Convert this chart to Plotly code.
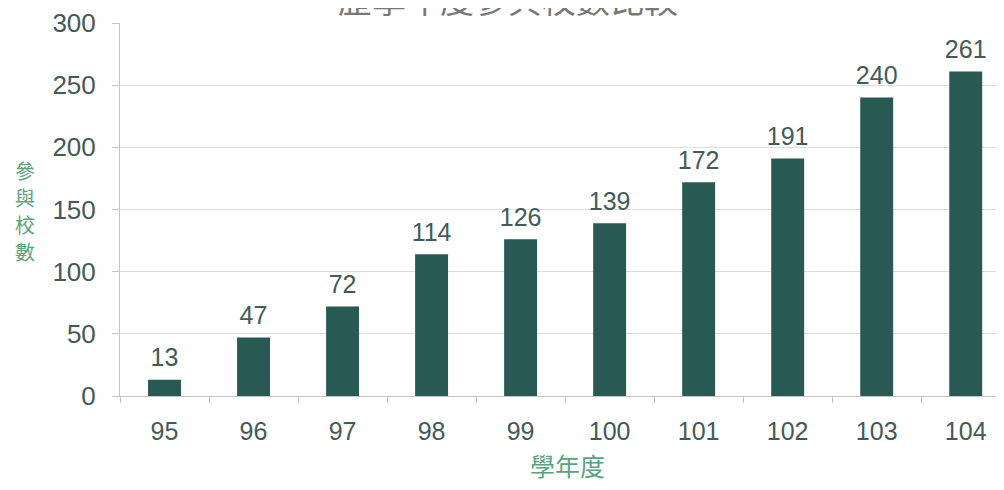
import plotly.graph_objects as go

years = ["95", "96", "97", "98", "99", "100", "101", "102", "103", "104"]
schools = [13, 47, 72, 114, 126, 139, 172, 191, 240, 261]
y_ticks = [0, 50, 100, 150, 200, 250, 300]
y_title_chars = ["參", "與", "校", "數"]

bar_color = "#285953"
text_color = "#435a58"
green = "#5aa37c"
num_font = "Liberation Sans, Arial, sans-serif"
cjk_font = "Noto Sans CJK TC, sans-serif"

# page body has an 8px margin; compensate so the plot area lands where the reference has it
L, T, B, R = 112, 15, 102, 8
plot_h = 490 - T - B

fig = go.Figure()
fig.add_trace(go.Bar(
    x=years, y=schools,
    marker=dict(color=bar_color, line=dict(width=0)),
    width=0.37,
    hoverinfo="x+y",
))
fig.add_trace(go.Scatter(
    x=years, y=schools,
    mode="markers+text",
    marker=dict(size=10, opacity=0),
    text=[str(v) for v in schools],
    textposition="top center",
    textfont=dict(family=num_font, size=25, color=text_color),
    cliponaxis=False,
    hoverinfo="skip",
))

annotations = []
for i, ch in enumerate(y_title_chars):
    page_y = 170 + i * 27 - 8
    annotations.append(dict(
        text=ch, xref="paper", yref="paper",
        x=-0.1075, xanchor="center",
        y=(490 - B - page_y) / plot_h, yanchor="middle",
        showarrow=False, borderpad=0,
        font=dict(family=cjk_font, size=20, color=green)))
annotations.append(dict(
    text="學年度", xref="paper", yref="paper",
    x=0.506, xanchor="center", y=-0.185, yanchor="middle",
    showarrow=False,
    font=dict(family=cjk_font, size=25, color=green)))
annotations.append(dict(
    text="歷學年度參與校數比較", xref="paper", yref="paper",
    x=0.439, xanchor="center", y=1.0 - 2 / plot_h, yanchor="bottom",
    showarrow=False,
    font=dict(family=cjk_font, size=34, color="#777777")))

fig.update_layout(
    width=1004, height=490,
    margin=dict(l=L, r=R, t=T, b=B),
    paper_bgcolor="white", plot_bgcolor="white",
    showlegend=False,
    xaxis=dict(
        type="category",
        range=[-0.5, 9.43],
        automargin=False,
        showgrid=False,
        showline=True, linecolor="#c4c4c4", linewidth=1,
        ticks="outside", tickson="boundaries", ticklen=6, tickcolor="#c4c4c4",
        ticklabelstandoff=13,
        tickfont=dict(family=num_font, size=25, color=text_color),
    ),
    yaxis=dict(
        range=[0, 300],
        automargin=False,
        tickvals=y_ticks,
        showgrid=True, gridcolor="#dcdcdc", gridwidth=1,
        showline=True, linecolor="#c4c4c4", linewidth=1,
        ticks="outside", ticklen=7, tickcolor="#c4c4c4",
        ticklabelstandoff=11,
        tickfont=dict(family=num_font, size=26, color=text_color),
        zeroline=False,
    ),
    annotations=annotations,
)

fig.write_html("out.html")
